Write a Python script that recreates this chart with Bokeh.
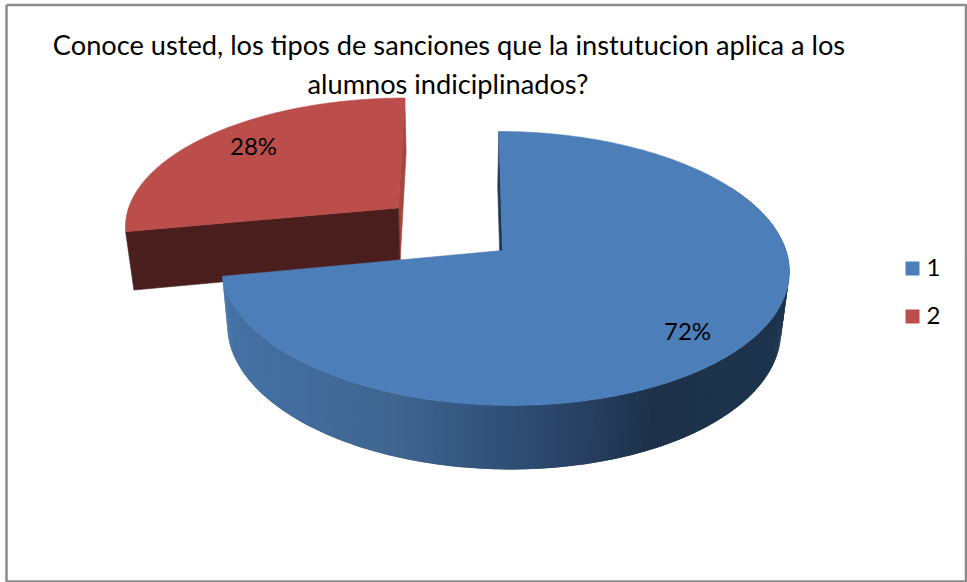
import numpy as np
from bokeh.plotting import figure
from bokeh.embed import file_html
from bokeh.resources import INLINE
from bokeh.core.properties import value
from bokeh.models import Range1d

title_lines = ["Conoce usted, los tipos de sanciones que la instutucion aplica a los",
               "alumnos indiciplinados?"]
categories = ["1", "2"]
shares = [72, 28]
pct_labels = ["72%", "28%"]

BLUE, RED = "#4C7EBA", "#BB4E4A"
RED_DARK, RED_SLIVER, BLUE_SLIVER = "#4A1E1D", "#A5463F", "#1F3A55"
BORDER = "#8C8C8C"
FONT = "Lato"

W, H = 967, 582
p = figure(width=W, height=H, output_backend="svg", toolbar_location=None,
           x_range=Range1d(0, W), y_range=Range1d(H, 0), min_border=0,
           x_axis_type=None, y_axis_type=None, outline_line_color=None)
p.grid.visible = False

# projection of the tilted pie
VX, Y0 = 455.0, 250.0         # vanishing column, pie plane row
K, A, B = 0.131, 281.5, 134.6 # perspective, radii
ZS, DEPTH = 0.975, 59.0       # bottom face shrink and thickness
ROT = 0.0
CX = 49.0                     # blue centre offset from VX
APEX_DX = -2.0                # blue apex sits slightly left of the rim centre


def proj(wx, wv, low=False):
    s = 1.0 / (1.0 - K * wv)
    z = ZS if low else 1.0
    d = DEPTH if low else 0.0
    return VX + wx * z * s, Y0 + (B * wv * z + d) * s


def rim(theta, ox, ov, low=False):
    th = np.radians(theta)
    return proj(ox + A * np.sin(th), ov - np.cos(th), low)


def wedge(a0, a1, ox, ov, low=False, n=160, apex_dx=0.0):
    t = np.linspace(a0, a1, n)
    x, y = rim(t, ox, ov, low)
    ax, ay = proj(ox + apex_dx, ov, low)
    return np.r_[ax, x], np.r_[ay, y]


def poly(pts_x, pts_y, color):
    p.patch(list(pts_x), list(pts_y), fill_color=color, line_color=color, line_width=0.6)


split = ROT + 360.0 * shares[0] / sum(shares)
end = ROT + 360.0

# exploded slice (second share)
rx, rv = -59.5, -0.33
ax0, ay0 = proj(rx, rv)
ax1, ay1 = proj(rx, rv, True)
bx0, by0 = rim(end, rx, rv)
bx1, by1 = rim(end, rx, rv, True)
poly([ax0, bx0, bx1, ax1], [ay0, by0, by1, ay1], RED_SLIVER)
lx0, ly0 = rim(split, rx, rv)
lx1, ly1 = rim(split, rx, rv, True)
poly([ax0, lx0, lx1, ax1], [ay0, ly0, ly1, ay1], RED_DARK)
poly(*wedge(split, end, rx, rv), RED)

# main slice: cut face, shaded wall and top
ax0, ay0 = proj(CX + APEX_DX, 0)
ax1, ay1 = proj(CX + APEX_DX, 0, True)
bx0, by0 = rim(ROT, CX, 0)
bx1, by1 = rim(ROT, CX, 0, True)
poly([ax0, bx0, bx1, ax1], [ay0, by0, by1, ay1], BLUE_SLIVER)

stops_x = [225, 400, 500, 600, 650, 790]
stops_rgb = np.array([[0x45, 0x72, 0xA6], [0x3F, 0x64, 0x8F], [0x30, 0x50, 0x78],
                      [0x26, 0x3C, 0x5C], [0x1D, 0x31, 0x49], [0x1E, 0x34, 0x4E]], float)
edges = np.linspace(60, split, 301)
xs, ys, cols = [], [], []
for i in range(len(edges) - 1):
    t0, t1 = edges[i], edges[min(i + 2, len(edges) - 1)]
    x0, y0 = rim(t0, CX, 0)
    x1, y1 = rim(t1, CX, 0)
    x2, y2 = rim(t1, CX, 0, True)
    x3, y3 = rim(t0, CX, 0, True)
    xs.append([x0, x1, x2, x3])
    ys.append([y0, y1, y2, y3])
    mid = (x0 + x1 + x2 + x3) / 4
    rgb = [int(round(np.interp(mid, stops_x, stops_rgb[:, c]))) for c in range(3)]
    cols.append("#%02X%02X%02X" % tuple(rgb))
p.patches(xs, ys, fill_color=cols, line_color=None)
poly(*wedge(ROT, split, CX, 0, apex_dx=APEX_DX), BLUE)

# texts
p.text([448.5, 447.5], [43.5, 82.5], text=title_lines, text_font=value(FONT), text_font_size="27.2px",
       text_align="center", text_baseline="middle", text_color="#000000")
p.text([687, 253], [329.5, 144.5], text=pct_labels, text_font=value(FONT), text_font_size="24px",
       text_align="center", text_baseline="middle", text_color="#000000")

# legend
leg_y = [268, 316]
p.rect([912, 912], leg_y, width=14, height=14, fill_color=[BLUE, RED], line_color=None)
p.text([926, 926], [267, 315], text=categories, text_font=value(FONT), text_font_size="24px",
       text_align="left", text_baseline="middle", text_color="#000000")

# frame
p.line([6, 965.5, 965.5, 6, 6], [4.5, 4.5, 581, 581, 4.5], line_color=BORDER, line_width=2.5)

open("out.html", "w").write(file_html(p, INLINE))
